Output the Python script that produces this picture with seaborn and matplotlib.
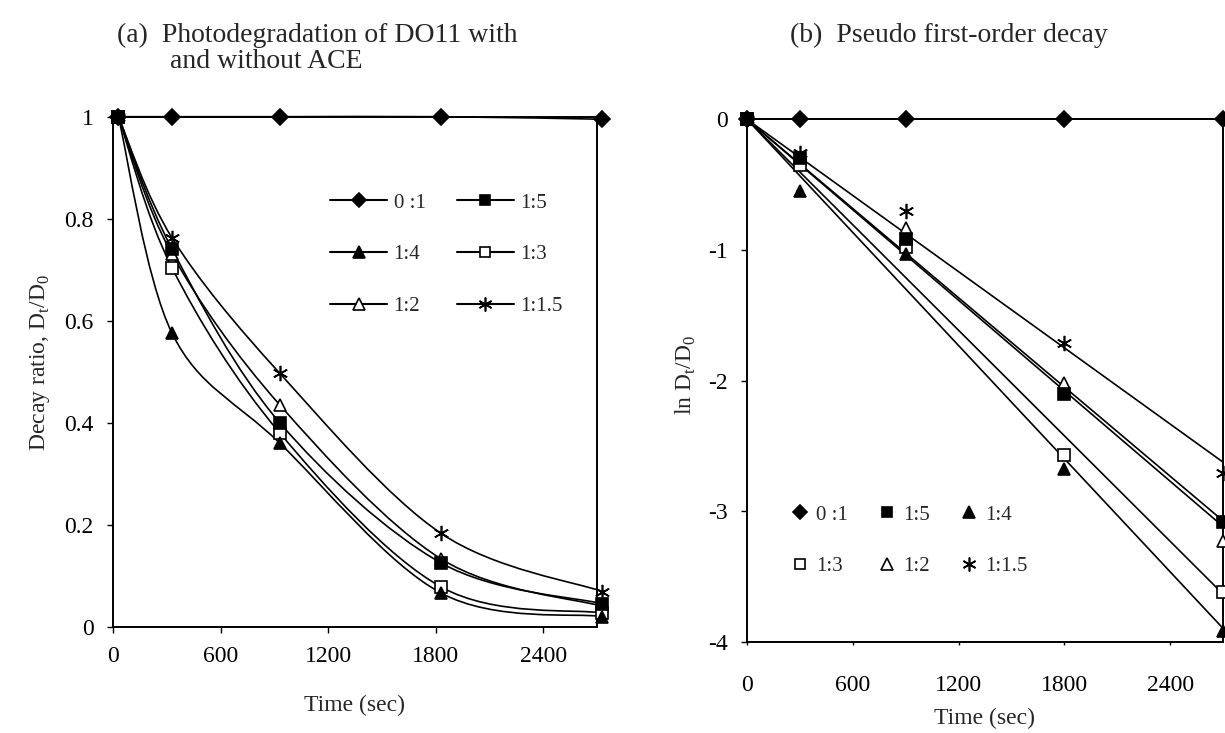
import numpy as np
import pandas as pd
import seaborn as sns
import matplotlib.pyplot as plt
from matplotlib.path import Path
from matplotlib.patches import PathPatch
from matplotlib.lines import Line2D

sns.set_theme(style="ticks")
plt.rcParams['font.family'] = ['Liberation Serif', 'DejaVu Serif']
plt.rcParams['mathtext.fontset'] = 'custom'
plt.rcParams['mathtext.rm'] = 'Liberation Serif'
plt.rcParams['axes.unicode_minus'] = False

# series labels (ACE : DO11 ratio)
ratios = ["0 :1", "1:5", "1:4", "1:3", "1:2", "1:1.5"]

# (a) decay ratio Dt/D0
time_a = [30, 330, 930, 1830, 2730]
dr_0_1 = [1.0, 1.0, 1.0, 1.0, 0.995]
dr_1_5 = [1.0, 0.74, 0.40, 0.125, 0.045]
dr_1_4 = [1.0, 0.575, 0.36, 0.066, 0.02]
dr_1_3 = [1.0, 0.703, 0.38, 0.078, 0.027]
dr_1_2 = [1.0, 0.73, 0.435, 0.133, 0.04]
dr_1_15 = [1.0, 0.762, 0.497, 0.183, 0.069]

# (b) ln Dt/D0
time_b = [0, 300, 900, 1800, 2700]
ln_0_1 = [0, 0, 0, 0, 0]
ln_1_5 = [0, -0.30, -0.92, -2.10, -3.08]
ln_1_4 = [0, -0.55, -1.03, -2.68, -3.92]
ln_1_3 = [0, -0.35, -0.98, -2.57, -3.62]
ln_1_2 = [0, -0.31, -0.83, -2.02, -3.23]
ln_1_15 = [0, -0.26, -0.70, -1.715, -2.71]

decay = dict(zip(ratios, [dr_0_1, dr_1_5, dr_1_4, dr_1_3, dr_1_2, dr_1_15]))
lndecay = dict(zip(ratios, [ln_0_1, ln_1_5, ln_1_4, ln_1_3, ln_1_2, ln_1_15]))

star = (6, 2, 0)
styles = {
    "0 :1": dict(marker="D", mfc="black", ms=8),
    "1:5": dict(marker="s", mfc="black", ms=8),
    "1:4": dict(marker="^", mfc="black", ms=9),
    "1:3": dict(marker="s", mfc="white", ms=8),
    "1:2": dict(marker="^", mfc="white", ms=9),
    "1:1.5": dict(marker=star, mfc="black", ms=11),
}
# filled square ends up on top at the common start point
draw_order = ["0 :1", "1:1.5", "1:2", "1:3", "1:4", "1:5"]


def smooth_path(x, y):
    # excel-like smoothed line (bezier through the points)
    pts = np.column_stack([x, y]).astype(float)
    n = len(pts)
    verts = [pts[0]]
    codes = [Path.MOVETO]
    for i in range(n - 1):
        p0 = pts[max(i - 1, 0)]
        p1 = pts[i]
        p2 = pts[i + 1]
        p3 = pts[min(i + 2, n - 1)]
        verts += [p1 + (p2 - p0) / 6, p2 - (p3 - p1) / 6, p2]
        codes += [Path.CURVE4] * 3
    return Path(verts, codes)


fig = plt.figure(figsize=(12.25, 7.33), dpi=100)
ax1 = fig.add_axes([113 / 1225, 1 - 626.7 / 733, 484 / 1225, 510 / 733])
ax2 = fig.add_axes([747 / 1225, 1 - 641.7 / 733, 476 / 1225, 522.4 / 733])

# ---- (a)
for lab in draw_order:
    st = styles[lab]
    vals = decay[lab]
    ax1.add_patch(PathPatch(smooth_path(time_a, vals), fc="none", ec="black",
                            lw=1.2, clip_on=False, zorder=2))
    sns.lineplot(x=time_a, y=vals, ax=ax1, color="black", linestyle="",
                 marker=st["marker"], markersize=st["ms"],
                 markerfacecolor=st["mfc"], markeredgecolor="black",
                 markeredgewidth=1.2, clip_on=False, zorder=3)

ax1.set_xlim(0, 2700)
ax1.set_ylim(0, 1)
ax1.set_xticks([0, 600, 1200, 1800, 2400])
ax1.set_yticks([0, 0.2, 0.4, 0.6, 0.8, 1.0])
ax1.set_yticklabels(["0", "0.2", "0.4", "0.6", "0.8", "1"])

leg_order = ["0 :1", "1:4", "1:2", "1:5", "1:3", "1:1.5"]
h1 = [Line2D([], [], color="black", lw=1.5, marker=styles[k]["marker"],
             ms=styles[k]["ms"] - 1, mfc=styles[k]["mfc"], mec="black", mew=1.2)
      for k in leg_order]
ax1.legend(h1, leg_order, ncol=2, frameon=False, fontsize=15,
           loc="upper left", bbox_to_anchor=(330 / 1225, 1 - 193 / 733),
           bbox_transform=fig.transFigure, borderpad=0, borderaxespad=0,
           handlelength=2.75, handletextpad=0.3, columnspacing=1.5,
           labelspacing=1.55)

# ---- (b)
for lab in draw_order:
    st = styles[lab]
    vals = lndecay[lab]
    xb = np.array(time_b, float)
    yb = np.array(vals, float)
    k = (xb * yb).sum() / (xb * xb).sum()  # trendline through origin
    fit = pd.DataFrame({"t": [0, 2700], "y": [0, k * 2700]})
    sns.lineplot(data=fit, x="t", y="y", ax=ax2, color="black", lw=1.2,
                 clip_on=False, zorder=2)
    sns.lineplot(x=time_b, y=vals, ax=ax2, color="black", linestyle="",
                 marker=st["marker"], markersize=st["ms"],
                 markerfacecolor=st["mfc"], markeredgecolor="black",
                 markeredgewidth=1.2, clip_on=False, zorder=3)

ax2.set_xlim(0, 2700)
ax2.set_ylim(-4, 0)
ax2.set_xticks([0, 600, 1200, 1800, 2400])
ax2.set_yticks([-4, -3, -2, -1, 0])

leg_order2 = ["0 :1", "1:3", "1:5", "1:2", "1:4", "1:1.5"]
h2 = [Line2D([], [], color="black", linestyle="", marker=styles[k]["marker"],
             ms=styles[k]["ms"] - 1, mfc=styles[k]["mfc"], mec="black", mew=1.2)
      for k in leg_order2]
ax2.legend(h2, leg_order2, ncol=3, frameon=False, fontsize=15,
           loc="upper left", bbox_to_anchor=(792 / 1225, 1 - 505 / 733),
           bbox_transform=fig.transFigure, borderpad=0, borderaxespad=0,
           handlelength=0.8, handletextpad=0.35, columnspacing=1.5,
           labelspacing=1.55)

for ax in (ax1, ax2):
    for sp in ax.spines.values():
        sp.set_color("black")
        sp.set_linewidth(1.4)
    ax.tick_params(direction="out", length=4, width=1, colors="black",
                   labelsize=17, pad=10)
    ax.set_xlabel("")
    ax.set_ylabel("")
ax2.tick_params(axis="x", length=2, pad=22)

fig.text(117 / 1225, 1 - 35 / 733, "(a)  Photodegradation of DO11 with",
         fontsize=20, ha="left", va="center")
fig.text(170 / 1225, 1 - 62 / 733, "and without ACE",
         fontsize=20, ha="left", va="center")
fig.text(790 / 1225, 1 - 35 / 733, "(b)  Pseudo first-order decay",
         fontsize=20, ha="left", va="center")

fig.text(355 / 1225, 1 - 705 / 733, "Time (sec)", fontsize=17,
         ha="center", va="center")
fig.text(985 / 1225, 1 - 718 / 733, "Time (sec)", fontsize=17,
         ha="center", va="center")
fig.text(40 / 1225, 1 - 362 / 733,
         r"Decay ratio, D$_\mathregular{t}$/D$_\mathregular{0}$",
         fontsize=17, rotation=90, ha="center", va="center")
fig.text(686 / 1225, 1 - 375 / 733,
         r"ln D$_\mathregular{t}$/D$_\mathregular{0}$",
         fontsize=17, rotation=90, ha="center", va="center")

fig.savefig("out.png", dpi=100)
